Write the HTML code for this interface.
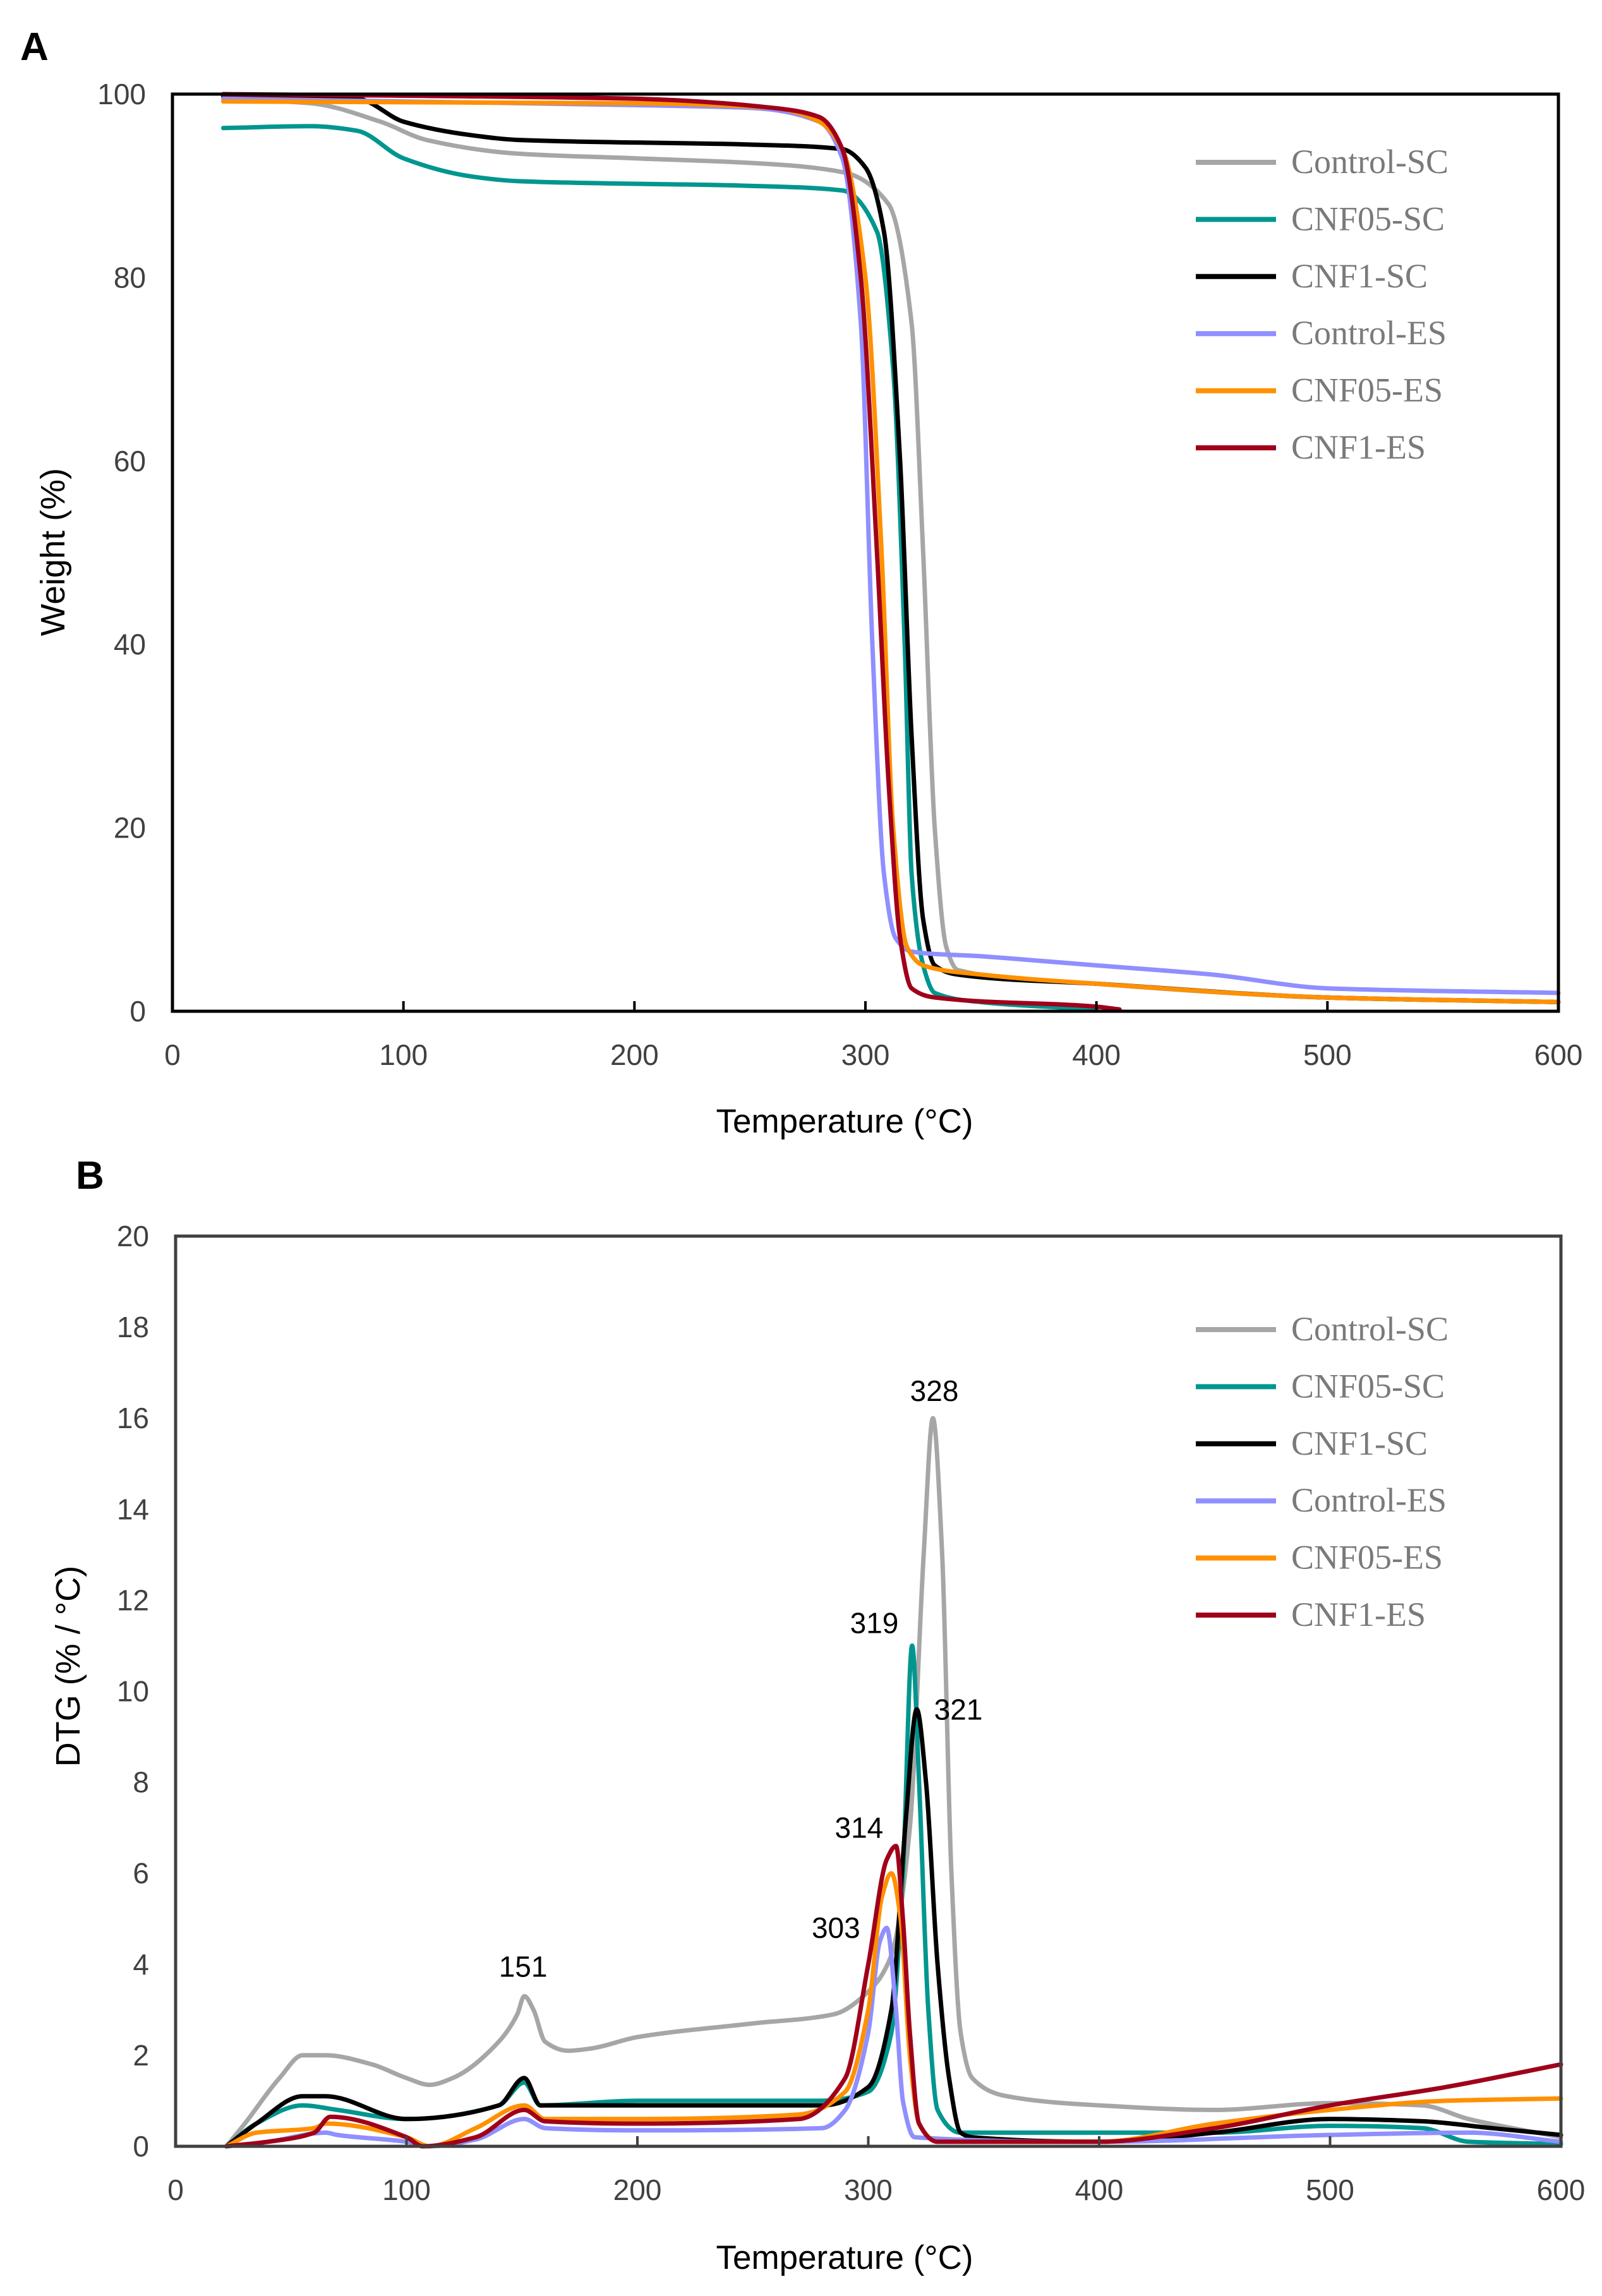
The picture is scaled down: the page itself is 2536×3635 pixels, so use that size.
<!DOCTYPE html>
<html><head><meta charset="utf-8">
<style>
html,body{margin:0;padding:0;background:#fff;}
svg{display:block;}
</style></head>
<body>
<svg id="fig" width="2536" height="3635" viewBox="0 0 2536 3635" xmlns="http://www.w3.org/2000/svg" font-family="Liberation Sans, Arial, sans-serif">
<rect x="0" y="0" width="2536" height="3635" fill="#fff"/>
<text x="32" y="95" font-size="62" font-weight="bold" fill="#000">A</text>
<text x="120" y="1882" font-size="62" font-weight="bold" fill="#000">B</text>
<g id="chartA"></g>
<g id="chartB"></g>
</svg>
<script>
const seriesNames = ["Control-SC","CNF05-SC","CNF1-SC","Control-ES","CNF05-ES","CNF1-ES"];
const seriesColors = ["#a6a6a6","#00968f","#000000","#8f8fff","#ff9000","#a0001a"];
const seriesKeys = ["control-sc","cnf05-sc","cnf1-sc","control-es","cnf05-es","cnf1-es"];

const xTicks = [0,100,200,300,400,500,600];
const yTicksA = [0,20,40,60,80,100];
const yTicksB = [0,2,4,6,8,10,12,14,16,18,20];

// Panel A: temperature / weight arrays
const tgaT0 = [22,60,90,110,150,200,250,290,310,320,325,330,335,340,400,500,600];
const tgaW0 = [99.5,99,97,95,93.5,93,92.5,91.5,88,75,50,20,7,4.5,3,1.5,1];
const tgaT1 = [22,60,80,100,130,150,250,290,305,312,317,320,325,330,350,400];
const tgaW1 = [96.3,96.5,96,93,91,90.5,90,89.5,85,70,40,15,5,2,1,0.2];
const tgaT2 = [22,80,100,130,150,250,290,300,308,315,320,325,330,340,400,500,600];
const tgaW2 = [99.8,99.5,97,95.5,95,94.5,94,92,85,60,30,10,5,4,3,1.5,1];
const tgaT3 = [22,100,200,250,280,290,298,303,308,313,320,350,400,450,500,600];
const tgaW3 = [99.5,99.2,98.8,98.5,97,93,75,40,15,8,6.5,6,5,4,2.5,2];
const tgaT4 = [22,200,260,280,290,300,307,312,318,325,350,400,500,600];
const tgaW4 = [99.2,99,98.5,97,94,80,50,20,7,5,4,3,1.5,1];
const tgaT5 = [22,200,260,280,290,298,305,310,315,320,330,400,410];
const tgaW5 = [100,99.5,98.5,97.5,94,80,50,25,8,2.5,1.5,0.5,0.2];

// Panel B: temperature / DTG arrays
const dtgT0 = [22,30,45,55,65,85,100,110,120,140,148,151,155,160,170,180,200,250,285,300,310,318,324,328,332,336,340,345,360,400,450,500,540,560,600];
const dtgV0 = [0,0.5,1.5,2.0,2.0,1.8,1.5,1.35,1.5,2.3,2.9,3.3,3.0,2.3,2.1,2.15,2.4,2.7,2.9,3.4,4.2,7,13,16,13,6,2.5,1.5,1.1,0.9,0.8,0.95,0.9,0.6,0.2];
const dtgT1 = [22,35,55,70,100,140,151,158,200,280,300,310,315,319,322,326,330,340,400,450,500,540,560,600];
const dtgV1 = [0,0.5,0.9,0.8,0.6,0.9,1.4,0.9,1.0,1.0,1.2,2.5,6,11,8,3,0.8,0.3,0.3,0.3,0.45,0.4,0.1,0.05];
const dtgT2 = [22,35,55,65,100,140,151,158,200,280,300,310,316,321,325,330,335,340,345,400,450,500,540,570,600];
const dtgV2 = [0,0.5,1.1,1.1,0.6,0.9,1.5,0.9,0.9,0.9,1.3,3,7,9.6,8,4,1.5,0.3,0.2,0.1,0.3,0.6,0.55,0.4,0.25];
const dtgT3 = [22,40,65,70,100,110,130,151,160,200,280,290,300,305,308,312,315,320,400,500,560,600];
const dtgV3 = [0,0.1,0.3,0.25,0.1,0,0.15,0.6,0.4,0.35,0.4,0.8,2.5,4.5,4.8,3,1,0.2,0.1,0.25,0.3,0.1];
const dtgT4 = [22,35,60,65,100,110,130,151,160,200,270,290,300,306,310,314,318,322,330,400,450,500,550,600];
const dtgV4 = [0,0.3,0.4,0.5,0.2,0,0.4,0.9,0.6,0.6,0.7,1.2,3,5.5,6,5,2,0.5,0.1,0.1,0.5,0.8,1.0,1.05];
const dtgT5 = [22,40,60,67,100,107,130,151,160,200,270,290,300,308,312,315,318,322,330,400,450,500,550,600];
const dtgV5 = [0,0.1,0.3,0.65,0.2,0,0.2,0.8,0.55,0.5,0.6,1.5,4,6.3,6.6,5,2.5,0.5,0.1,0.1,0.4,0.9,1.3,1.8];

const peakLabels = ["151","328","319","321","314","303"];
const peakT = [150.5,328.6,302.6,339,296,286];
const peakV = [3.95,16.6,11.5,9.6,7.0,4.8];

const NS = "http://www.w3.org/2000/svg";
function mk(parent, tag, attrs){ const e=document.createElementNS(NS,tag); for(const k in attrs) e.setAttribute(k,attrs[k]); parent.appendChild(e); return e; }

// monotone cubic path through pixel points (x increasing)
function monoPath(px, py){
  const n = px.length;
  if(n<3){ return px.map((x,i)=>(i?"L":"M")+x.toFixed(1)+" "+py[i].toFixed(1)).join(" "); }
  const d=[], m=new Array(n);
  for(let i=0;i<n-1;i++) d.push((py[i+1]-py[i])/(px[i+1]-px[i]));
  m[0]=d[0]; m[n-1]=d[n-2];
  for(let i=1;i<n-1;i++){
    if(d[i-1]*d[i]<=0) m[i]=0;
    else { const w1=2*(px[i+1]-px[i])+(px[i]-px[i-1]), w2=(px[i+1]-px[i])+2*(px[i]-px[i-1]); m[i]=(w1+w2)/(w1/d[i-1]+w2/d[i]); }
  }
  let s="M"+px[0].toFixed(1)+" "+py[0].toFixed(1);
  for(let i=0;i<n-1;i++){
    const h=px[i+1]-px[i];
    s+=" C"+(px[i]+h/3).toFixed(1)+" "+(py[i]+m[i]*h/3).toFixed(1)+" "+(px[i+1]-h/3).toFixed(1)+" "+(py[i+1]-m[i+1]*h/3).toFixed(1)+" "+px[i+1].toFixed(1)+" "+py[i+1].toFixed(1);
  }
  return s;
}

function drawChart(g, box, ymax, yTicks, Ts, Vs, axisColor, legendY, panel){
  const xs = v => box.l + (v/600)*(box.r-box.l);
  const ys = v => box.b - (v/ymax)*(box.b-box.t);
  for(let i=0;i<Ts.length;i++){
    const d = monoPath(Ts[i].map(xs), Vs[i].map(ys));
    const p = mk(g,"path",{d:d,fill:"none",stroke:seriesColors[i],"stroke-width":7,"stroke-linejoin":"round","stroke-linecap":"round"});
    
    
  }
  const fr = mk(g,"rect",{x:box.l,y:box.t,width:box.r-box.l,height:box.b-box.t,fill:"none",stroke:axisColor,"stroke-width":5});
  
  
  for(const t of xTicks){
    const x = xs(t);
    const tk = mk(g,"line",{x1:x,y1:box.b,x2:x,y2:box.b-16,stroke:axisColor,"stroke-width":4});
    
    
    const tx = mk(g,"text",{x:x,y:box.b+85,"font-size":46,"text-anchor":"middle",fill:"#404040"});
    tx.textContent = t;
    
    
  }
  for(const v of yTicks){
    const ty = mk(g,"text",{x:box.l-42,y:ys(v)+16,"font-size":46,"text-anchor":"end",fill:"#404040"});
    ty.textContent = v;
    
    
  }
  for(let i=0;i<seriesNames.length;i++){
    const y = legendY + i*90.4;
    const ll = mk(g,"line",{x1:1893,y1:y,x2:2020,y2:y,stroke:seriesColors[i],"stroke-width":8});
    
    
    const lt = mk(g,"text",{x:2044,y:y+17,"font-size":54,"font-family":"Liberation Serif, serif",fill:"#7a7a7a"});
    lt.textContent = seriesNames[i];
    
    
  }
  return {xs,ys};
}

const gA = document.getElementById("chartA");
const boxA = {l:273,r:2467,t:149,b:1601};
drawChart(gA, boxA, 100, yTicksA, [tgaT0,tgaT1,tgaT2,tgaT3,tgaT4,tgaT5], [tgaW0,tgaW1,tgaW2,tgaW3,tgaW4,tgaW5], "#000", 257, "tga");
let t;
t = mk(gA,"text",{x:1337,y:1793,"font-size":53,"text-anchor":"middle",fill:"#000"}); t.textContent="Temperature (°C)";


t = mk(gA,"text",{x:0,y:0,"font-size":54,"text-anchor":"middle",fill:"#000",transform:"translate(102,874) rotate(-90)"}); t.textContent="Weight (%)";



const gB = document.getElementById("chartB");
const boxB = {l:278,r:2471,t:1957,b:3398};
const axB = drawChart(gB, boxB, 20, yTicksB, [dtgT0,dtgT1,dtgT2,dtgT3,dtgT4,dtgT5], [dtgV0,dtgV1,dtgV2,dtgV3,dtgV4,dtgV5], "#404040", 2105, "dtg");
t = mk(gB,"text",{x:1337,y:3592,"font-size":53,"text-anchor":"middle",fill:"#000"}); t.textContent="Temperature (°C)";


t = mk(gB,"text",{x:0,y:0,"font-size":54,"text-anchor":"middle",fill:"#000",transform:"translate(126,2638) rotate(-90)"}); t.textContent="DTG (% / °C)";


for(let i=0;i<peakLabels.length;i++){
  const a = mk(gB,"text",{x:axB.xs(peakT[i]),y:axB.ys(peakV[i])+16,"font-size":46,"text-anchor":"middle",fill:"#000"});
  a.textContent = peakLabels[i];
  
  
}
</script>
</body></html>
